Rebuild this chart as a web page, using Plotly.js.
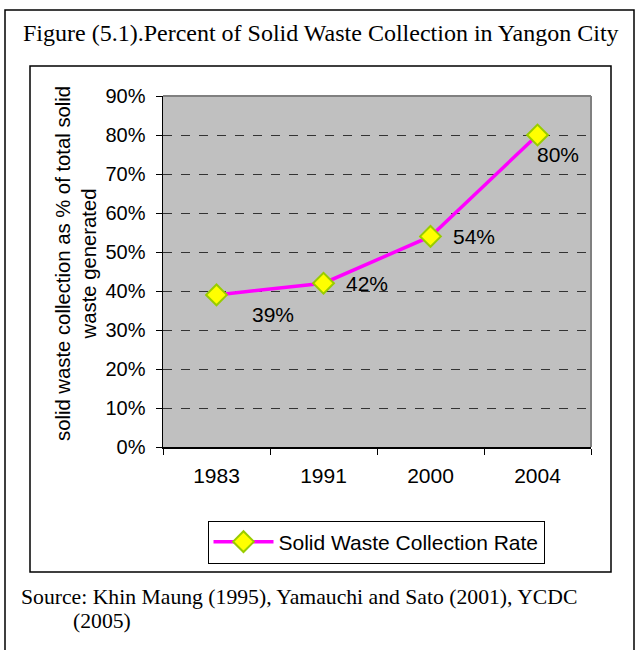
<!DOCTYPE html>
<html>
<head>
<meta charset="utf-8">
<script src="https://cdn.plot.ly/plotly-3.0.1.min.js"></script>
<style>html,body{margin:0;padding:0;background:#fff;}#chart{width:640px;height:650px;}</style>
</head>
<body>
<div id="chart"></div>
<script>
// ---- data ----
const years = ['1983', '1991', '2000', '2004'];
const rates = [0.39, 0.42, 0.54, 0.80];
const rateLabels = ['39%', '42%', '54%', '80%'];
const seriesName = 'Solid Waste Collection Rate';
const yTickVals = [0, 0.1, 0.2, 0.3, 0.4, 0.5, 0.6, 0.7, 0.8, 0.9];
const yTickText = ['0%', '10%', '20%', '30%', '40%', '50%', '60%', '70%', '80%', '90%'];
const chartTitle = 'Figure (5.1).Percent of Solid Waste Collection in Yangon City';
const yTitle = 'solid waste collection as % of total solid<br>waste generated';
const sourceLine1 = 'Source: Khin Maung (1995), Yamauchi and Sato (2001), YCDC';
const sourceLine2 = '(2005)';

// ---- geometry helpers (pixel -> paper) ----
const W = 640, H = 650;
const L = 163, R = 591, T = 96, B = 447;
const px = p => (p - L) / (R - L);
const py = p => (B - p) / (B - T);

const sans = 'Liberation Sans, Arial, sans-serif';
const serif = 'Liberation Serif, Times New Roman, serif';

const labelShift = [[33, -20], [20, 0], [20, 0], [-3, -19]];

// category axis: annotation x given as the category index
const annotations = rateLabels.map((t, i) => ({
  x: years.indexOf(years[i]), y: rates[i], xref: 'x', yref: 'y', text: t, showarrow: false,
  xanchor: 'left', yanchor: 'middle', xshift: labelShift[i][0], yshift: labelShift[i][1],
  font: {family: sans, size: 21, color: '#000'}
}));

annotations.push(
  {xref: 'paper', yref: 'paper', x: px(21), y: py(33), xanchor: 'left', yanchor: 'middle',
   text: chartTitle, showarrow: false, font: {family: serif, size: 24, color: '#000'}},
  {xref: 'paper', yref: 'paper', x: px(76), y: py(264), xanchor: 'center', yanchor: 'middle',
   text: yTitle, textangle: -90, showarrow: false, font: {family: sans, size: 20.3, color: '#000'}},
  {xref: 'paper', yref: 'paper', x: px(19), y: py(597), xanchor: 'left', yanchor: 'middle',
   text: sourceLine1, showarrow: false, font: {family: serif, size: 21.7, color: '#000'}},
  {xref: 'paper', yref: 'paper', x: px(71), y: py(621), xanchor: 'left', yanchor: 'middle',
   text: sourceLine2, showarrow: false, font: {family: serif, size: 21.7, color: '#000'}}
);

const shapes = [
  {type: 'rect', xref: 'paper', yref: 'paper', x0: px(5), x1: px(634), y0: py(10), y1: py(660),
   line: {color: '#000', width: 1.5}, fillcolor: 'rgba(0,0,0,0)', layer: 'below'},
  {type: 'rect', xref: 'paper', yref: 'paper', x0: px(30), x1: px(611), y0: py(66), y1: py(572),
   line: {color: '#000', width: 1.5}, fillcolor: 'rgba(0,0,0,0)', layer: 'below'},
  {type: 'line', xref: 'paper', yref: 'paper', x0: 0, x1: 1, y0: 1, y1: 1,
   line: {color: '#808080', width: 2}},
  {type: 'line', xref: 'paper', yref: 'paper', x0: 1, x1: 1, y0: 0, y1: 1,
   line: {color: '#808080', width: 2}}
];

const trace = {
  x: years, y: rates, type: 'scatter', mode: 'lines+markers', name: seriesName,
  line: {color: '#FF00FF', width: 3.5},
  marker: {symbol: 'diamond', size: 16, color: '#FFFF00', line: {color: '#99CC00', width: 2}},
  cliponaxis: false
};

const layout = {
  width: W, height: H,
  margin: {l: L, r: W - R, t: T, b: H - B, pad: 0},
  paper_bgcolor: '#fff', plot_bgcolor: '#C0C0C0',
  showlegend: true,
  legend: {
    x: px(376), y: py(542), xanchor: 'center', yanchor: 'middle', orientation: 'h',
    bgcolor: '#fff', bordercolor: '#000', borderwidth: 1,
    font: {family: sans, size: 21, color: '#000'}, itemwidth: 60
  },
  xaxis: {
    type: 'category', range: [-0.5, 3.5], showgrid: false, zeroline: false,
    showline: true, linecolor: '#000', linewidth: 1.5,
    ticks: 'outside', tickson: 'boundaries', ticklen: 6, tickcolor: '#000', tickwidth: 1,
    tickfont: {family: sans, size: 21, color: '#000'}, ticklabelstandoff: 9, fixedrange: true
  },
  yaxis: {
    range: [0, 0.9], tickvals: yTickVals, ticktext: yTickText,
    showgrid: true, gridcolor: '#333', griddash: 'dash', gridwidth: 1, zeroline: false,
    showline: true, linecolor: '#000', linewidth: 1.5,
    ticks: 'outside', ticklen: 6, tickcolor: '#000', tickwidth: 1,
    tickfont: {family: sans, size: 20, color: '#000'}, ticklabelstandoff: 6, fixedrange: true
  },
  annotations: annotations,
  shapes: shapes
};

Plotly.newPlot('chart', [trace], layout, {displayModeBar: false, staticPlot: true});
</script>
</body>
</html>
